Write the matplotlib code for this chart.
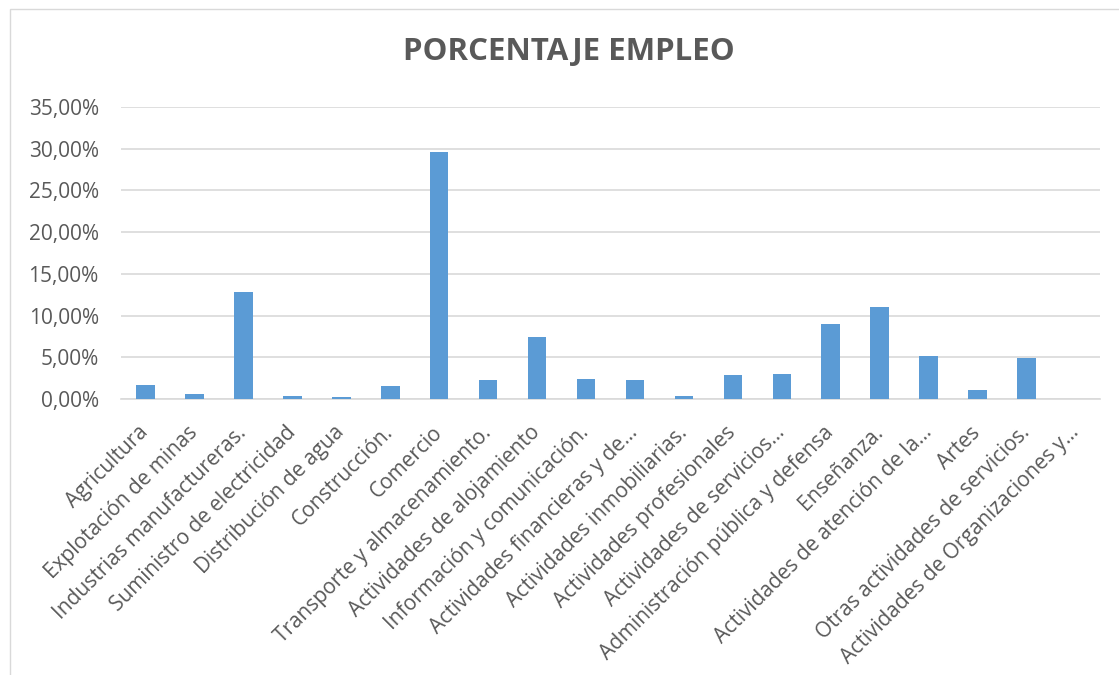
import matplotlib
matplotlib.use("Agg")
import matplotlib.pyplot as plt
from matplotlib.patches import Rectangle
from matplotlib.ticker import FuncFormatter, MultipleLocator

categories = [
    "Agricultura", "Explotación de minas", "Industrias manufactureras.",
    "Suministro de electricidad", "Distribución de agua", "Construcción.",
    "Comercio", "Transporte y almacenamiento.", "Actividades de alojamiento",
    "Información y comunicación.", "Actividades financieras y de…",
    "Actividades inmobiliarias.", "Actividades profesionales",
    "Actividades de servicios…", "Administración pública y defensa",
    "Enseñanza.", "Actividades de atención de la…", "Artes",
    "Otras actividades de servicios.", "Actividades de Organizaciones y…",
]
values = [1.72, 0.56, 12.88, 0.32, 0.20, 1.52, 29.56, 2.31, 7.39, 2.45,
          2.29, 0.40, 2.93, 3.01, 8.96, 11.0, 5.10, 1.04, 4.90, 0.0]

title = "PORCENTAJE EMPLEO"

W, H = 1119, 675
fig = plt.figure(figsize=(W / 100, H / 100), dpi=100)
fig.patch.set_facecolor("white")

# chart border
fig.patches.append(Rectangle((9.5 / W, -0.05), 1.2, 1 - 8.5 / H + 0.05,
                             transform=fig.transFigure, fill=False,
                             edgecolor="#D9D9D9", linewidth=1.0))

ax = fig.add_axes([121 / W, 1 - 399 / H, (1100 - 121) / W, (399 - 107) / H])
text_color = "#595959"
font = "Open Sans"

x = list(range(len(categories)))
ax.bar(x, values, width=0.38, color="#5B9BD5", zorder=3)
ax.set_xlim(-0.5, len(categories) - 0.5)
ax.set_ylim(0, 35)
ax.yaxis.set_major_locator(MultipleLocator(5))
ax.yaxis.set_major_formatter(FuncFormatter(lambda v, p: f"{v:.2f}%".replace(".", ",")))
ax.grid(axis="y", color="#D9D9D9", linewidth=1.2, zorder=0)
for s in ["top", "right", "left"]:
    ax.spines[s].set_visible(False)
ax.spines["bottom"].set_color("#D9D9D9")
ax.spines["bottom"].set_linewidth(1.2)
ax.tick_params(axis="both", length=0, colors=text_color)
ax.tick_params(axis="y", pad=16)
ax.set_xticks(x)
ax.set_xticklabels(categories, rotation=45, ha="right", va="center",
                   rotation_mode="anchor", fontsize=15, family=font, color=text_color)
for lab in ax.get_yticklabels():
    lab.set_fontsize(15)
    lab.set_family(font)
    lab.set_color(text_color)
ax.tick_params(axis="x", pad=22)

fig.text(569 / W, 1 - 52 / H, title, ha="center", va="center", fontsize=22.5,
         fontweight="bold", family=font, color=text_color)

fig.savefig("out.png", dpi=100)
